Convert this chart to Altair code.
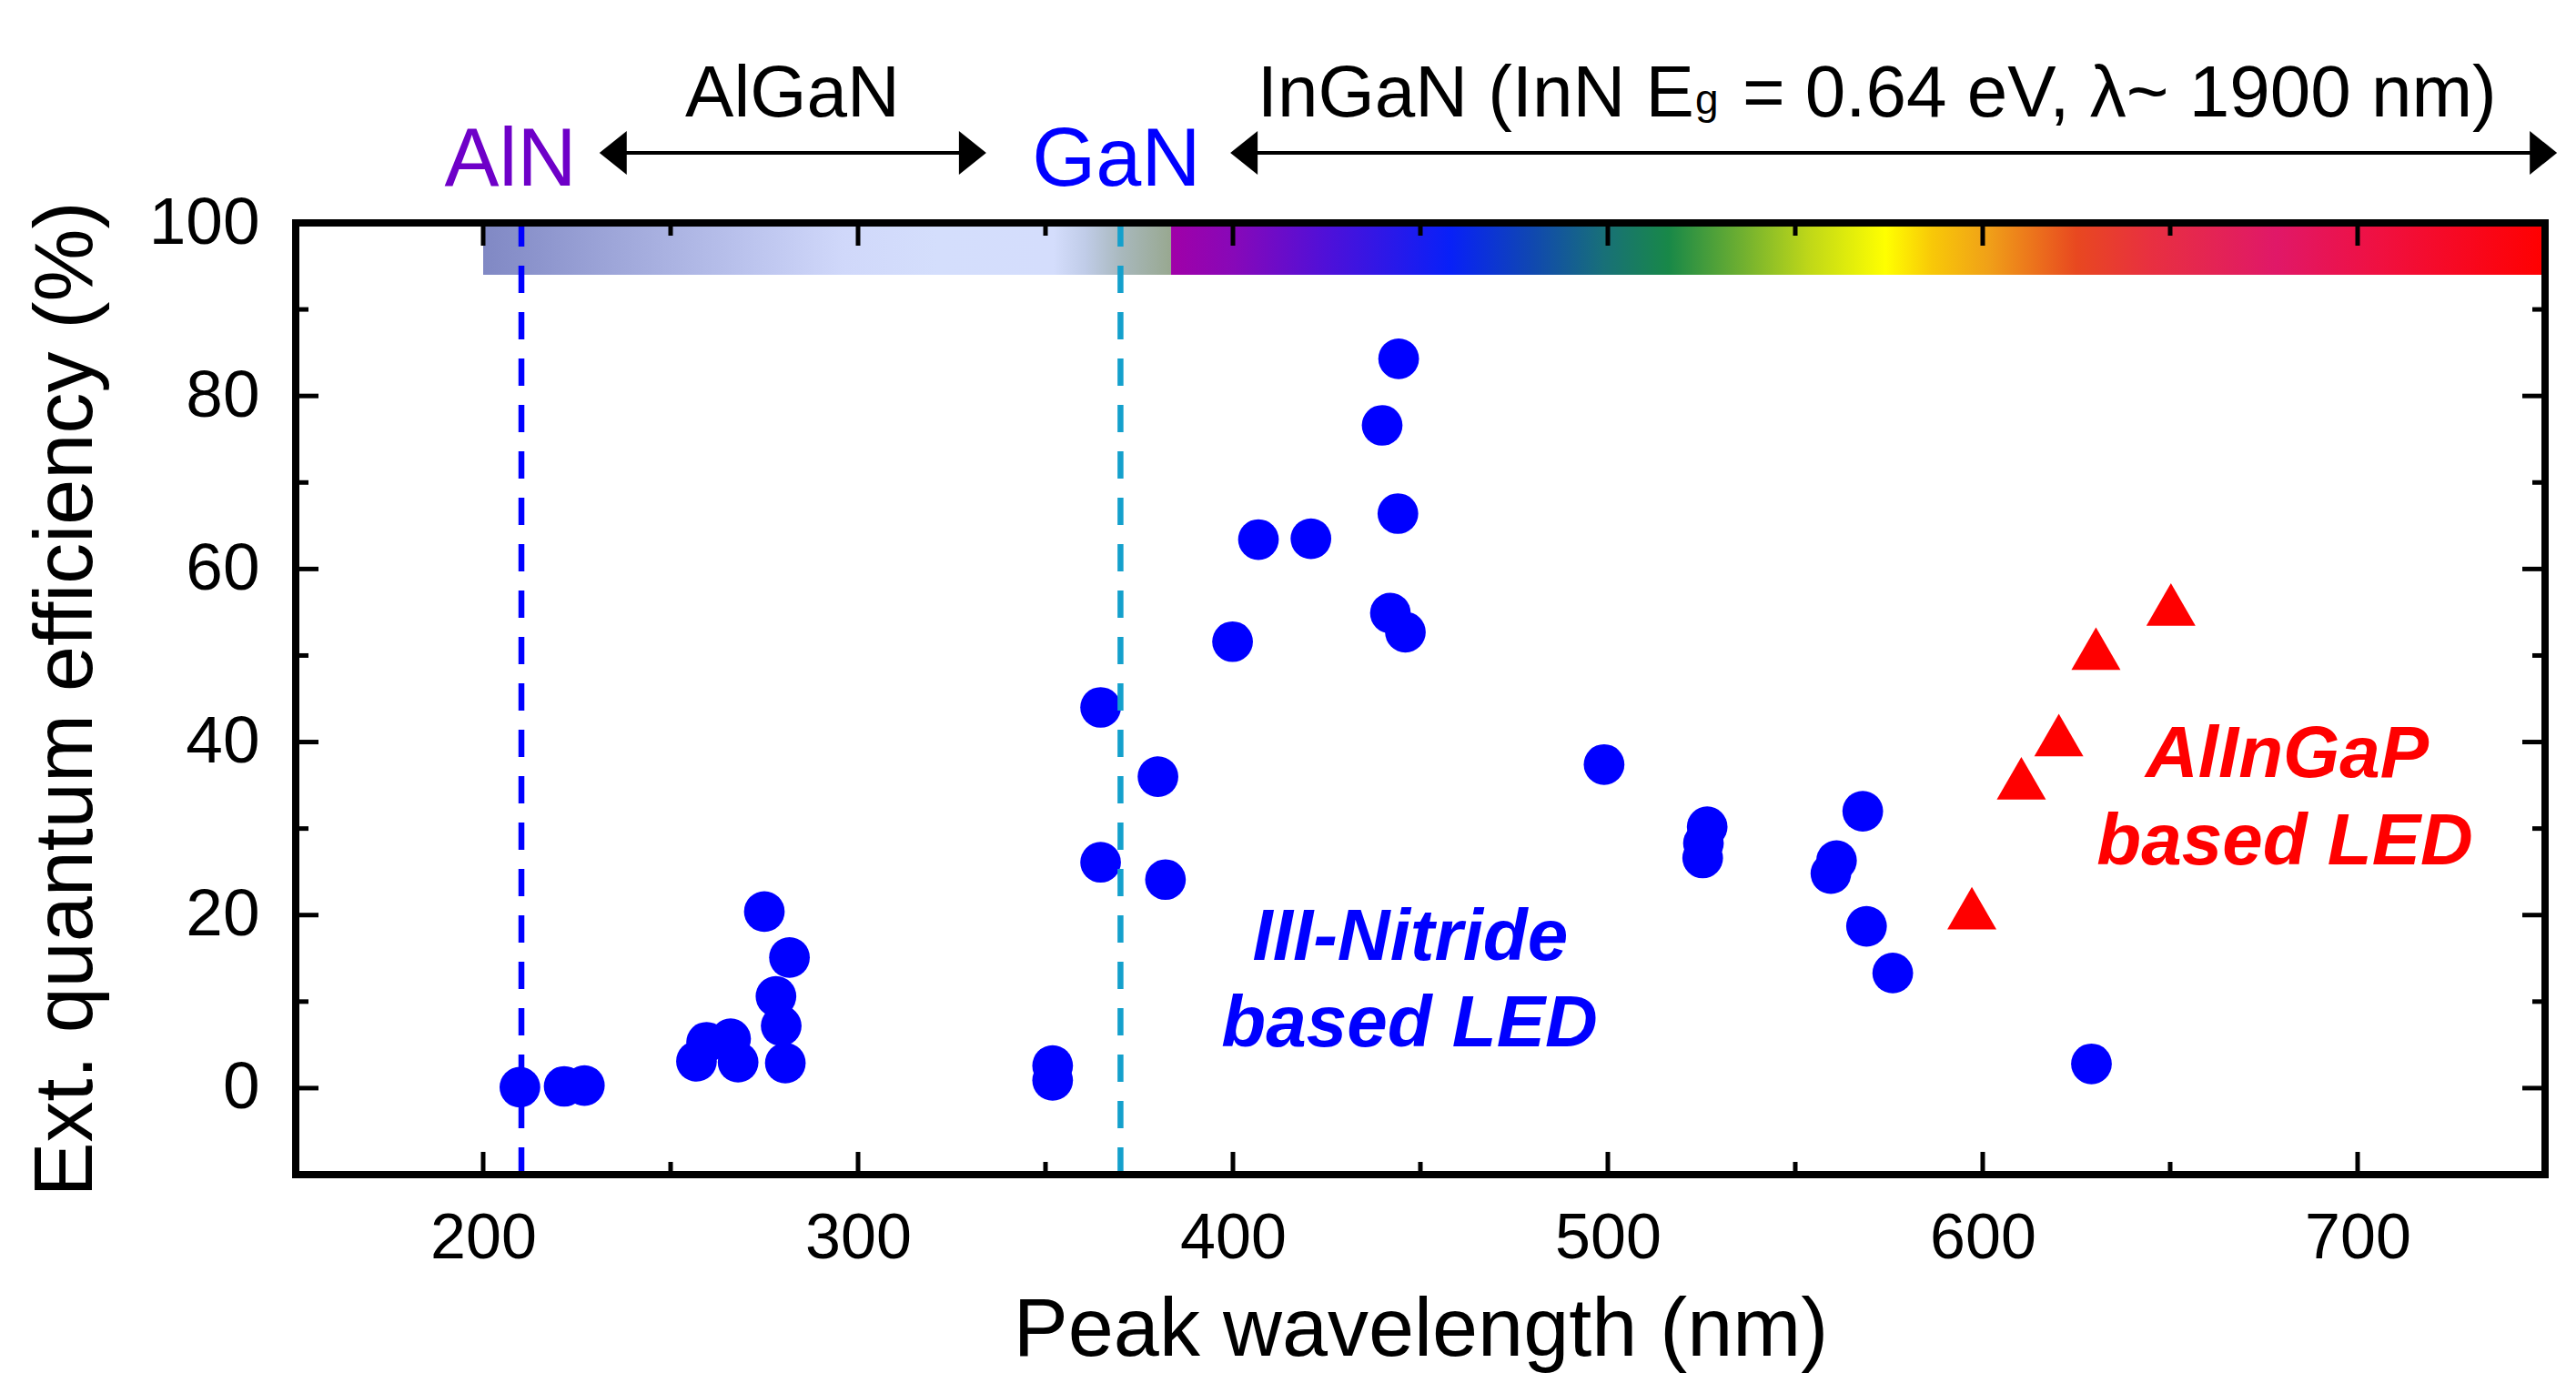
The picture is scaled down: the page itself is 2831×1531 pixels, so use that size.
import altair as alt
import pandas as pd

# ---------------- data ----------------
nitride_wl = [209.8, 221.6, 227.0, 256.9, 259.6, 266.0, 268.0, 275.0, 278.1, 279.5,
              280.6, 281.7, 351.9, 351.9, 364.7, 364.7, 380.0, 382.0, 399.9, 406.8,
              420.8, 439.8, 444.2, 444.0, 442.0, 446.0, 499.0, 526.5, 525.5, 525.3,
              559.5, 561.0, 568.0, 569.0, 576.0, 629.0]
nitride_eqe = [0.1, 0.2, 0.3, 3.1, 5.3, 5.7, 3.0, 20.4, 10.6, 7.2,
               2.9, 15.1, 2.6, 0.9, 44.0, 26.1, 36.0, 24.1, 51.6, 63.4,
               63.5, 76.6, 84.3, 66.4, 54.9, 52.7, 37.4, 30.2, 28.3, 26.6,
               24.8, 26.3, 32.0, 18.7, 13.3, 2.8]
alingap_wl = [597.1, 610.3, 620.3, 630.2, 650.2]
alingap_eqe = [20.8, 35.8, 40.8, 50.8, 55.9]

x_major = [200, 300, 400, 500, 600, 700]
x_minor = [250, 350, 450, 550, 650]
y_major = [0, 20, 40, 60, 80, 100]
y_minor = [10, 30, 50, 70, 90]

# reference lines (AlN, GaN band edges)
edge_wl = [210.2, 370.0]
edge_color = ["#0000ff", "#14a0cc"]

# colour bar
bar_light_range = [200.0, 383.5]
bar_light_offsets = [0.0, 0.254, 0.39, 0.524, 0.66, 0.829, 0.875, 0.929, 1.0]
bar_light_colors = ["#8088c4", "#a8b0e0", "#bcc4ee", "#d0d8fa", "#d4defc",
                    "#d4ddfc", "#c0cce8", "#a8b8bc", "#98a890"]
bar_rainbow_range = [383.5, 750.0]
bar_rainbow_offsets = [0.0, 0.045, 0.112, 0.203, 0.263, 0.315, 0.362, 0.416, 0.465,
                       0.52, 0.554, 0.595, 0.659, 0.712, 0.804, 0.881, 1.0]
bar_rainbow_colors = ["#a000a8", "#8808b8", "#5010d8", "#0820f8", "#1048b0", "#187078",
                      "#188848", "#70b030", "#c0d818", "#ffff00", "#f8c808", "#f0a018",
                      "#e84820", "#e83040", "#e01868", "#f01040", "#ff0000"]
bar_y = [94.0, 100.0]

# arrows above the plot
arrow_from = [231.0, 399.3]
arrow_to = [334.2, 753.2]
arrow_y = 108.1

XDOM = [150, 750]
YDOM = [-10, 100]
W, H = 2472, 1046
FONT = "Liberation Sans, Arial, Helvetica, sans-serif"

xs = alt.Scale(domain=XDOM, nice=False, zero=False)
ys = alt.Scale(domain=YDOM, nice=False, zero=False)

axis_common = dict(labelFont=FONT, labelColor="black",
                   titleFont=FONT, titleFontSize=90, titleFontWeight="normal",
                   titleColor="black", ticks=False, tickSize=0, domain=False,
                   grid=False, labelFlush=False, format="d")
x_axis = alt.Axis(values=x_major, labelFontSize=70, labelPadding=36,
                  title="Peak wavelength (nm)", titlePadding=22, **axis_common)
y_axis = alt.Axis(values=y_major, labelFontSize=73, labelPadding=40,
                  title="Ext. quantum efficiency (%)", titlePadding=44, **axis_common)


def X(field):
    return alt.X(field, type="quantitative", scale=xs, axis=x_axis)


def Y(field):
    return alt.Y(field, type="quantitative", scale=ys, axis=y_axis)


# ---------------- colour bar ----------------
def grad(offsets, colors):
    return alt.LinearGradient(
        gradient="linear",
        stops=[alt.GradientStop(color=c, offset=o) for o, c in zip(offsets, colors)],
        x1=0, x2=1, y1=0, y2=0)


def bar(rng, offsets, colors):
    df = pd.DataFrame({"x": [rng[0]], "x2": [rng[1]], "y": [bar_y[0]], "y2": [bar_y[1]]})
    return alt.Chart(df).mark_rect(fill=grad(offsets, colors), strokeWidth=0).encode(
        x=X("x"), x2="x2", y=Y("y"), y2="y2")


bar1 = bar(bar_light_range, bar_light_offsets, bar_light_colors)
bar2 = bar(bar_rainbow_range, bar_rainbow_offsets, bar_rainbow_colors)

# ---------------- dashed edge lines ----------------
edges = alt.Chart(pd.DataFrame({"x": edge_wl, "c": edge_color,
                                "y": [YDOM[0]] * 2, "y2": [YDOM[1]] * 2})).mark_rule(
    strokeDash=[30, 21], strokeWidth=6.5).encode(
    x=X("x"), y=Y("y"), y2="y2", color=alt.Color("c:N", scale=None))


# ---------------- ticks (inward, mirrored) ----------------
def xticks(vals, length):
    df = pd.DataFrame({"v": vals})
    b = alt.Chart(df).mark_rule(strokeWidth=5, color="black").encode(
        x=X("v"), y=alt.value(H), y2=alt.value(H - length))
    t = alt.Chart(df).mark_rule(strokeWidth=5, color="black").encode(
        x=X("v"), y=alt.value(0), y2=alt.value(length))
    return [b, t]


def yticks(vals, length):
    df = pd.DataFrame({"v": vals})
    l = alt.Chart(df).mark_rule(strokeWidth=5, color="black").encode(
        y=Y("v"), x=alt.value(0), x2=alt.value(length))
    r = alt.Chart(df).mark_rule(strokeWidth=5, color="black").encode(
        y=Y("v"), x=alt.value(W), x2=alt.value(W - length))
    return [l, r]


ticks = xticks(x_major, 25) + xticks(x_minor, 14) + yticks(y_major, 25) + yticks(y_minor, 14)

# ---------------- data points ----------------
circles = alt.Chart(pd.DataFrame({"wl": nitride_wl, "eqe": nitride_eqe})).mark_point(
    shape="circle", filled=True, size=2000, color="#0000ff", opacity=1, strokeWidth=0
).encode(x=X("wl"), y=Y("eqe"))

triangles = alt.Chart(pd.DataFrame({"wl": alingap_wl, "eqe": alingap_eqe})).mark_point(
    shape="triangle-up", filled=True, size=2916, color="#ff0000", opacity=1, strokeWidth=0
).encode(x=X("wl"), y=Y("eqe"))


# ---------------- text ----------------
def label(texts, xv, yv, size, color, weight="normal", style="normal", align="center"):
    df = pd.DataFrame({"t": texts, "x": xv, "y": yv})
    return alt.Chart(df).mark_text(font=FONT, fontSize=size, color=color, fontWeight=weight,
                                   fontStyle=style, align=align, baseline="alphabetic").encode(
        x=X("x"), y=Y("y"), text="t:N")


txt_nitride = label(["III-Nitride", "based LED"], [447.3, 447.1], [14.8, 4.8], 80,
                    "#0000ff", "bold", "italic")
txt_alingap = label(["AlInGaP", "based LED"], [681.2, 680.6], [36.0, 25.9], 80,
                    "#ff0000", "bold", "italic")
txt_aln = label(["AlN"], [207.3], [104.3], 90, "#6e00c8")
txt_gan = label(["GaN"], [368.9], [104.3], 90, "#0000ff")
txt_algan = label(["AlGaN"], [282.5], [112.3], 80, "black")
txt_ingan1 = label(["InGaN (InN E"], [406.5], [112.3], 80, "black", align="left")
txt_ingan_g = label(["g"], [523.3], [112.6], 46, "black", align="left")
txt_ingan2 = label(["= 0.64 eV, λ~ 1900 nm)"], [535.9], [112.3], 80, "black", align="left")

# ---------------- arrows ----------------
arrow_lines = alt.Chart(pd.DataFrame({"x": [a + 3 for a in arrow_from],
                                      "x2": [b - 3 for b in arrow_to],
                                      "y": [arrow_y] * 2})).mark_rule(
    strokeWidth=4, color="black").encode(x=X("x"), x2="x2", y=Y("y"))
heads_left = alt.Chart(pd.DataFrame({"x": arrow_from, "y": [arrow_y] * 2})).mark_point(
    shape="M0,0L1.25,-1L1.25,1Z", filled=True, size=2304, color="black", opacity=1,
    strokeWidth=0).encode(x=X("x"), y=Y("y"))
heads_right = alt.Chart(pd.DataFrame({"x": arrow_to, "y": [arrow_y] * 2})).mark_point(
    shape="M0,0L-1.25,-1L-1.25,1Z", filled=True, size=2304, color="black", opacity=1,
    strokeWidth=0).encode(x=X("x"), y=Y("y"))

# ---------------- frame ----------------
frame = alt.Chart(pd.DataFrame({
    "x": [XDOM[0], XDOM[0], XDOM[0], XDOM[1]],
    "x2": [XDOM[1], XDOM[1], XDOM[0], XDOM[1]],
    "y": [YDOM[0], YDOM[1], YDOM[0], YDOM[0]],
    "y2": [YDOM[0], YDOM[1], YDOM[1], YDOM[1]],
})).mark_rule(strokeWidth=8, color="black", strokeCap="square").encode(
    x=X("x"), x2="x2", y=Y("y"), y2="y2")

chart = alt.layer(
    circles, bar1, bar2, triangles, edges, *ticks,
    txt_nitride, txt_alingap, txt_aln, txt_gan, txt_algan,
    txt_ingan1, txt_ingan_g, txt_ingan2,
    arrow_lines, heads_left, heads_right, frame
).properties(
    width=W, height=H,
    padding={"left": 317, "top": 237, "right": 26, "bottom": 220},
    autosize=alt.AutoSizeParams(type="none"),
    background="white",
).configure_view(stroke=None)

chart.save("out.html", embed_options={"renderer": "svg", "actions": False})
